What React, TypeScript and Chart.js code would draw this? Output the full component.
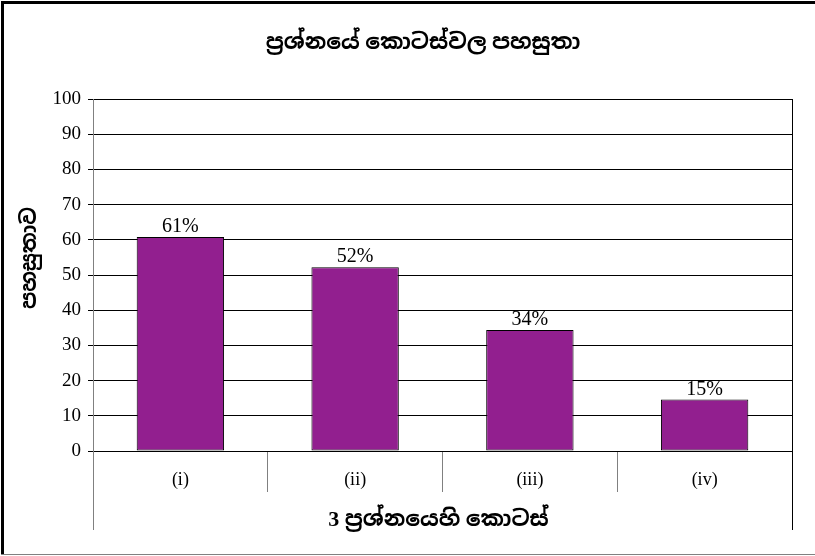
import React, { useEffect, useRef } from 'react';
import { Chart, registerables } from 'chart.js';

Chart.register(...registerables);

// ---- data ----
const categories = ['(i)', '(ii)', '(iii)', '(iv)'];
const easeValues = [60.8, 52.2, 34.4, 14.6];
const valueLabels = easeValues.map((v) => `${Math.round(v)}%`);
const yMin = 0;
const yMax = 100;
const yStep = 10;

const chartTitle = 'ප්\u200Dරශ්නයේ කොටස්වල පහසුතා';
const yAxisTitle = 'පහසුතාව';
const xAxisTitle = '3 ප්\u200Dරශ්නයෙහි කොටස්';

const SERIF = "'Liberation Serif', 'Times New Roman', 'Noto Sans Sinhala', 'Iskoola Pota', serif";
const BAR_COLOR = '#921f8f';

const decorPlugin = {
  id: 'decor',
  beforeDraw(chart: any) {
    const { ctx, width, height } = chart;
    ctx.save();
    ctx.fillStyle = '#ffffff';
    ctx.fillRect(0, 0, width, height);
    // outer frame
    ctx.fillStyle = '#000000';
    ctx.fillRect(1, 1, width, 3);
    ctx.fillRect(1, 1, 3, height - 2);
    ctx.fillStyle = '#808080';
    ctx.fillRect(1, height - 2, width, 1);
    ctx.restore();
  },
  afterDraw(chart: any) {
    const { ctx, chartArea } = chart;
    const xs = chart.scales.x;
    ctx.save();
    // extended axis lines
    ctx.lineWidth = 1;
    ctx.strokeStyle = '#808080';
    ctx.beginPath();
    ctx.moveTo(Math.round(chartArea.left) + 0.5, chartArea.top);
    ctx.lineTo(Math.round(chartArea.left) + 0.5, xs.bottom);
    ctx.stroke();
    ctx.strokeStyle = '#000000';
    ctx.beginPath();
    ctx.moveTo(Math.round(chartArea.right) + 0.5, chartArea.top);
    ctx.lineTo(Math.round(chartArea.right) + 0.5, xs.bottom);
    ctx.stroke();

    // value labels
    const meta = chart.getDatasetMeta(0);
    ctx.fillStyle = '#000000';
    ctx.font = `20px ${SERIF}`;
    ctx.textAlign = 'center';
    ctx.textBaseline = 'alphabetic';
    meta.data.forEach((el: any, i: number) => {
      ctx.fillText(valueLabels[i], el.x, el.y - 5);
    });

    // chart title
    ctx.font = `bold 22px ${SERIF}`;
    ctx.textBaseline = 'middle';
    ctx.fillText(chartTitle, 423, 43);

    // x axis title
    ctx.fillText(xAxisTitle, (chartArea.left + chartArea.right) / 2 - 4, xs.bottom - 10);

    // y axis title
    ctx.font = `bold 21px ${SERIF}`;
    ctx.translate(31, 258);
    ctx.rotate(-Math.PI / 2);
    ctx.fillText(yAxisTitle, 0, 0);
    ctx.restore();
  },
};

export default function App() {
  const ref = useRef<HTMLCanvasElement | null>(null);

  useEffect(() => {
    if (!ref.current) return;
    const chart = new Chart(ref.current, {
      type: 'bar',
      data: {
        labels: categories,
        datasets: [
          {
            data: easeValues,
            backgroundColor: BAR_COLOR,
            borderColor: '#000000',
            borderWidth: 1,
            borderSkipped: false,
            barPercentage: 1,
            categoryPercentage: 0.5,
          },
        ],
      },
      options: {
        animation: false,
        responsive: false,
        maintainAspectRatio: false,
        layout: { padding: { left: 0, right: 23, top: 99, bottom: 26 } },
        plugins: {
          legend: { display: false },
          title: { display: false },
          tooltip: { enabled: false },
        },
        scales: {
          x: {
            afterFit(scale: any) {
              scale.height = 79;
            },
            grid: {
              offset: true,
              drawOnChartArea: false,
              drawTicks: true,
              tickLength: 41,
              color: '#808080',
              lineWidth: 1,
            },
            border: { display: true, color: '#000000', width: 1 },
            ticks: {
              color: '#000000',
              font: { family: SERIF, size: 18 },
              padding: -23,
              maxRotation: 0,
            },
          },
          y: {
            min: yMin,
            max: yMax,
            afterFit(scale: any) {
              scale.width = 93;
            },
            ticks: {
              stepSize: yStep,
              color: '#000000',
              font: { family: SERIF, size: 19 },
              padding: 7,
            },
            grid: {
              color: '#000000',
              lineWidth: 1,
              tickLength: 5,
              drawTicks: true,
            },
            border: { display: true, color: '#808080', width: 1 },
          },
        },
      },
      plugins: [decorPlugin],
    });
    return () => chart.destroy();
  }, []);

  return (
    <div style={{ position: 'fixed', left: 0, top: 0, width: 815, height: 556 }}>
      <canvas ref={ref} width={815} height={556} style={{ width: 815, height: 556, display: 'block' }} />
    </div>
  );
}
